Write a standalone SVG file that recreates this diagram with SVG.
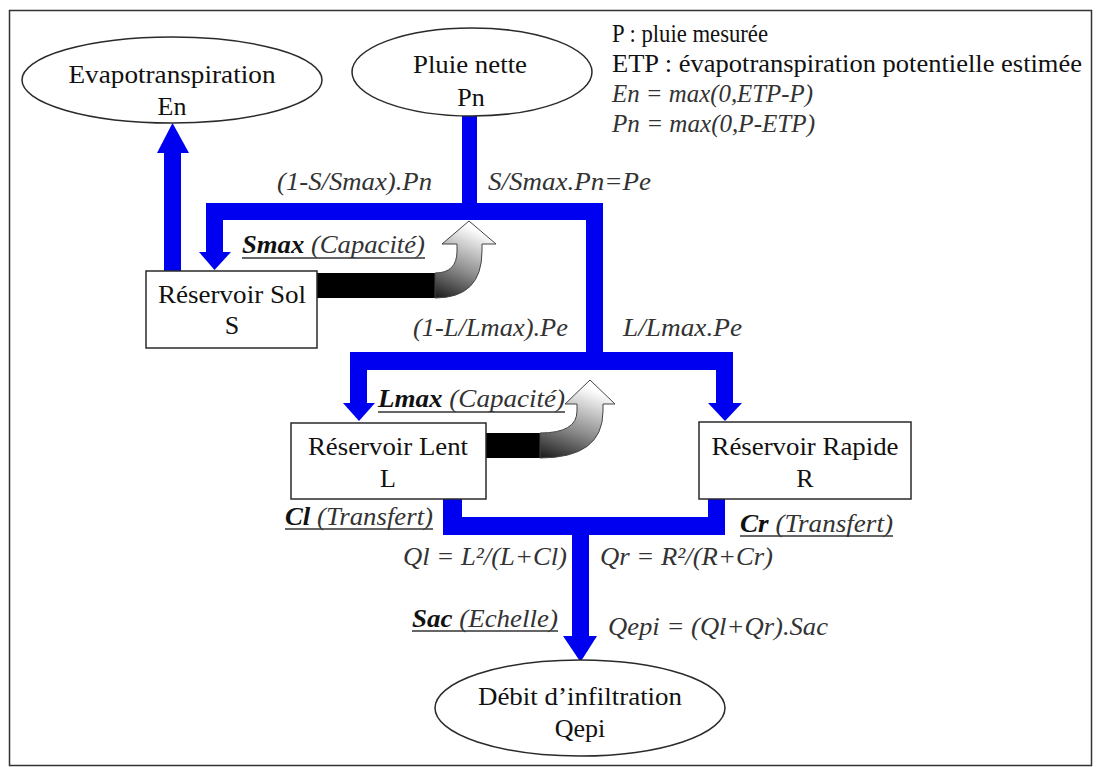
<svg xmlns="http://www.w3.org/2000/svg" width="1101" height="767" viewBox="0 0 1101 767">
<defs>
<linearGradient id="grayArrow" x1="0" y1="1" x2="0.35" y2="0">
<stop offset="0" stop-color="#1a1a1a"/>
<stop offset="0.45" stop-color="#8a8a8a"/>
<stop offset="1" stop-color="#ffffff"/>
</linearGradient>
<style>
.node{fill:#fff;stroke:#2a2a2a;stroke-width:1.5}
.t{font-family:"Liberation Serif","Times New Roman",serif;font-size:26px;fill:#111}
.lg{font-family:"Liberation Serif","Times New Roman",serif;font-size:25px;fill:#111}
.lbl{font-family:"Liberation Serif","Times New Roman",serif;font-size:25px;font-style:italic;fill:#333}
.b{font-weight:bold;fill:#111}
.ul{stroke:#333;stroke-width:1.5}
.flow{fill:#0000f0}
.curl{fill:url(#grayArrow);stroke:#444;stroke-width:1}
</style>
</defs>
<rect x="9.5" y="10.5" width="1082" height="755" fill="#fff" stroke="#333" stroke-width="1.5"/>

<g id="connectors">
<g class="flow">
<rect x="164" y="150" width="17" height="121"/>
<polygon points="157,153 189,153 172.5,123"/>
<rect x="462" y="115" width="15" height="90"/>
<rect x="206" y="203" width="397" height="17"/>
<rect x="206" y="203" width="17" height="50"/>
<polygon points="199,252 231,252 214.5,270"/>
<rect x="586" y="203" width="17" height="167"/>
<rect x="350" y="352" width="383" height="18"/>
<rect x="350" y="352" width="17" height="52"/>
<polygon points="343,403 375,403 359,421"/>
<rect x="716" y="352" width="17" height="52"/>
<polygon points="708,403 742,403 725,421"/>
<rect x="443" y="499" width="19" height="36"/>
<rect x="443" y="517" width="282" height="18"/>
<rect x="708" y="499" width="17" height="36"/>
<rect x="572" y="534" width="17" height="103"/>
<polygon points="563,636 597,636 580.5,662"/>
</g>
<g id="capacity-sol">
<rect x="317" y="273" width="118" height="25" fill="#000"/>
<path class="curl" d="M435,273 Q457,273 457,251 L457,244 L442,244 L469,221 L496,244 L482,244 L482,251 Q482,298 435,298 Z"/>
</g>
<g id="capacity-lent">
<rect x="486" y="433" width="54" height="25" fill="#000"/>
<path class="curl" d="M540,433 Q577,433 577,411 L577,404 L565,404 L590,380 L615,404 L603,404 L603,411 Q603,458 540,458 Z"/>
</g>
</g>

<g id="evap">
<ellipse class="node" cx="172" cy="80" rx="150" ry="43"/>
<text class="t" x="172" y="83" text-anchor="middle" textLength="207" lengthAdjust="spacingAndGlyphs">Evapotranspiration</text>
<text class="t" x="172" y="115" text-anchor="middle">En</text>
</g>

<g id="pluie">
<ellipse class="node" cx="472" cy="72" rx="120" ry="44"/>
<text class="t" x="470" y="73" text-anchor="middle" textLength="114" lengthAdjust="spacingAndGlyphs">Pluie nette</text>
<text class="t" x="471" y="106" text-anchor="middle">Pn</text>
</g>

<g id="legend">
<text class="lg" x="612" y="42" textLength="156" lengthAdjust="spacingAndGlyphs">P : pluie mesurée</text>
<text class="lg" x="612" y="72" textLength="470" lengthAdjust="spacingAndGlyphs">ETP : évapotranspiration potentielle estimée</text>
<text class="lbl" x="612" y="102" textLength="201" lengthAdjust="spacingAndGlyphs">En = max(0,ETP-P)</text>
<text class="lbl" x="612" y="132" textLength="203" lengthAdjust="spacingAndGlyphs">Pn = max(0,P-ETP)</text>
</g>

<g id="sol">
<rect class="node" x="146" y="271" width="171" height="77"/>
<text class="t" x="232" y="303" text-anchor="middle" textLength="148" lengthAdjust="spacingAndGlyphs">Réservoir Sol</text>
<text class="t" x="232" y="334" text-anchor="middle">S</text>
</g>

<g id="lent">
<rect class="node" x="291" y="423" width="195" height="76"/>
<text class="t" x="388" y="455" text-anchor="middle" textLength="160" lengthAdjust="spacingAndGlyphs">Réservoir Lent</text>
<text class="t" x="388" y="487" text-anchor="middle">L</text>
</g>

<g id="rapide">
<rect class="node" x="699" y="422" width="212" height="77"/>
<text class="t" x="805" y="455" text-anchor="middle" textLength="187" lengthAdjust="spacingAndGlyphs">Réservoir Rapide</text>
<text class="t" x="805" y="487" text-anchor="middle">R</text>
</g>

<g id="debit">
<ellipse class="node" cx="580" cy="708" rx="145" ry="48"/>
<text class="t" x="580" y="705" text-anchor="middle" textLength="204" lengthAdjust="spacingAndGlyphs">Débit d’infiltration</text>
<text class="t" x="580" y="737" text-anchor="middle">Qepi</text>
</g>

<g id="labels">
<text class="lbl" x="277" y="190" textLength="155" lengthAdjust="spacingAndGlyphs">(1-S/Smax).Pn</text>
<text class="lbl" x="488" y="190" textLength="163" lengthAdjust="spacingAndGlyphs">S/Smax.Pn=Pe</text>
<text class="lbl" x="242" y="253" textLength="183" lengthAdjust="spacingAndGlyphs"><tspan class="b">Smax</tspan> (Capacité)</text>
<line class="ul" x1="242" y1="258" x2="425" y2="258"/>
<text class="lbl" x="413" y="336" textLength="155" lengthAdjust="spacingAndGlyphs">(1-L/Lmax).Pe</text>
<text class="lbl" x="623" y="336" textLength="119" lengthAdjust="spacingAndGlyphs">L/Lmax.Pe</text>
<text class="lbl" x="378" y="407" textLength="187" lengthAdjust="spacingAndGlyphs"><tspan class="b">Lmax</tspan> (Capacité)</text>
<line class="ul" x1="378" y1="412" x2="565" y2="412"/>
<text class="lbl" x="285" y="525" textLength="148" lengthAdjust="spacingAndGlyphs"><tspan class="b">Cl</tspan> (Transfert)</text>
<line class="ul" x1="285" y1="529" x2="433" y2="529"/>
<text class="lbl" x="740" y="532" textLength="153" lengthAdjust="spacingAndGlyphs"><tspan class="b">Cr</tspan> (Transfert)</text>
<line class="ul" x1="740" y1="536" x2="893" y2="536"/>
<text class="lbl" x="403" y="565" textLength="164" lengthAdjust="spacingAndGlyphs">Ql = L²/(L+Cl)</text>
<text class="lbl" x="600" y="565" textLength="173" lengthAdjust="spacingAndGlyphs">Qr = R²/(R+Cr)</text>
<text class="lbl" x="412" y="627" textLength="146" lengthAdjust="spacingAndGlyphs"><tspan class="b">Sac</tspan> (Echelle)</text>
<line class="ul" x1="412" y1="631" x2="558" y2="631"/>
<text class="lbl" x="608" y="635" textLength="220" lengthAdjust="spacingAndGlyphs">Qepi = (Ql+Qr).Sac</text>
</g>
</svg>
